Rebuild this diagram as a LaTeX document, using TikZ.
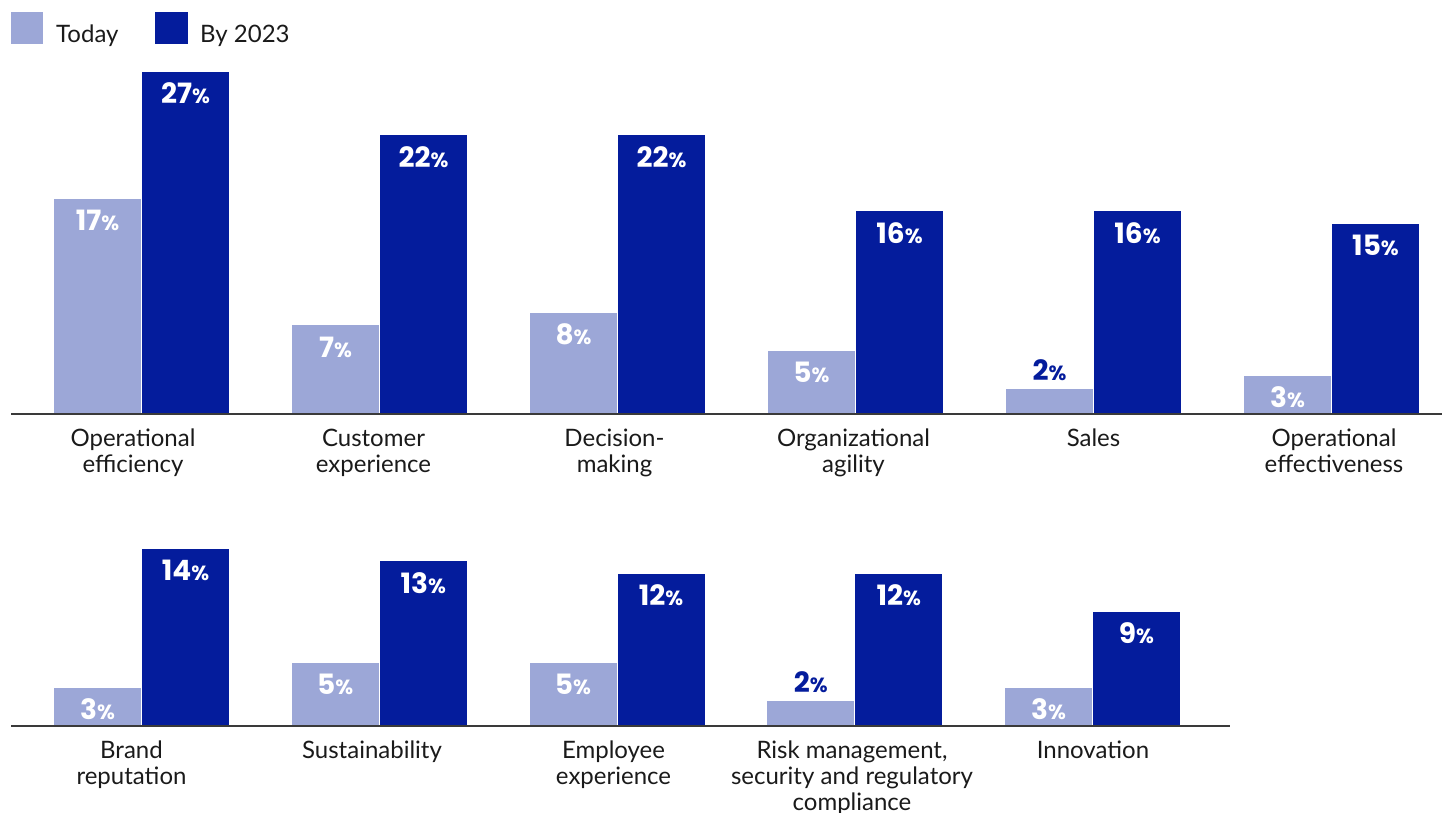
\documentclass[tikz,border=0pt]{standalone}
\usepackage{fontspec}
\setmainfont{Lato}
\newfontfamily\pctfont{Poppins}
\definecolor{lightbar}{HTML}{9CA7D7}
\definecolor{darkbar}{HTML}{041C9C}
\definecolor{axisgray}{HTML}{3A3A3A}
\definecolor{txt}{HTML}{1A1A1A}
\newcommand\pctsign{{\fontsize{20.5}{20.5}\selectfont\%}}
\begin{document}
\begin{tikzpicture}[x=1pt,y=-1pt,
  cat/.style={font=\fontsize{24}{26}\selectfont, align=center, anchor=north, inner sep=0pt, text=txt},
  pct/.style={font=\pctfont\bfseries\fontsize{28}{28}\selectfont, inner sep=0pt, anchor=base},
  leg/.style={font=\fontsize{24}{26}\selectfont, inner sep=0pt, anchor=base west, text=txt},
  axisline/.style={draw=axisgray, line width=1.5pt}]
\useasboundingbox (0,0) rectangle (1442,813);
% legend
\fill[lightbar] (11,12) rectangle (43,44);
\node[leg] (legtoday) at (56,43) {Today};
\fill[darkbar] (155,12) rectangle (188,44);
\node[leg] (legby) at (200,43) {By 2023};
% top row bars
\foreach \i/\a/\b in {0/17/27,1/7/22,2/8/22,3/5/16,4/2/16,5/3/15}{
  \pgfmathsetmacro\xl{54+238*\i}
  \pgfmathsetmacro\ta{414-12.67*\a}
  \pgfmathsetmacro\tb{414-12.67*\b}
  \fill[lightbar] (\xl,414) rectangle (\xl+87,\ta);
  \fill[darkbar] (\xl+88,414) rectangle (\xl+175,\tb);
  \ifnum\a>2
    \node[pct,text=white] (ta\i) at (\xl+43.5,\ta+32) {\a\pctsign};
  \else
    \node[pct,text=darkbar] (ta\i) at (\xl+43.5,\ta-8) {\a\pctsign};
  \fi
  \node[pct,text=white] (tb\i) at (\xl+131.5,\tb+32) {\b\pctsign};
}
\draw[axisline] (11,414) -- (1442,414);
% bottom row bars
\foreach \i/\a/\b in {0/3/14,1/5/13,2/5/12,3/2/12,4/3/9}{
  \pgfmathsetmacro\xl{54+238*\i-0.25*\i}
  \pgfmathsetmacro\ta{726-12.67*\a}
  \pgfmathsetmacro\tb{726-12.67*\b}
  \fill[lightbar] (\xl,726) rectangle (\xl+87,\ta);
  \fill[darkbar] (\xl+88,726) rectangle (\xl+175,\tb);
  \ifnum\a>2
    \node[pct,text=white] (ba\i) at (\xl+43.5,\ta+32) {\a\pctsign};
  \else
    \node[pct,text=darkbar] (ba\i) at (\xl+43.5,\ta-8) {\a\pctsign};
  \fi
  \node[pct,text=white] (bb\i) at (\xl+131.5,\tb+32) {\b\pctsign};
}
\draw[axisline] (11,726) -- (1230,726);
% category labels, top row
\node[cat] (c1) at (133,429) {Operational\\efficiency};
\node[cat] (c2) at (373.5,429) {Customer\\experience};
\node[cat] (c3) at (614.5,429) {Decision-\\making};
\node[cat] (c4) at (853.5,429) {Organizational\\agility};
\node[cat] (c5) at (1093.5,429) {Sales};
\node[cat] (c6) at (1334,429) {Operational\\effectiveness};
% category labels, bottom row
\node[cat] (d1) at (131.5,741) {Brand\\reputation};
\node[cat] (d2) at (372,741) {Sustainability};
\node[cat] (d3) at (613.5,741) {Employee\\experience};
\node[cat] (d4) at (852,741) {Risk management,\\security and regulatory\\compliance};
\node[cat] (d5) at (1093,741) {Innovation};
\end{tikzpicture}
\end{document}
